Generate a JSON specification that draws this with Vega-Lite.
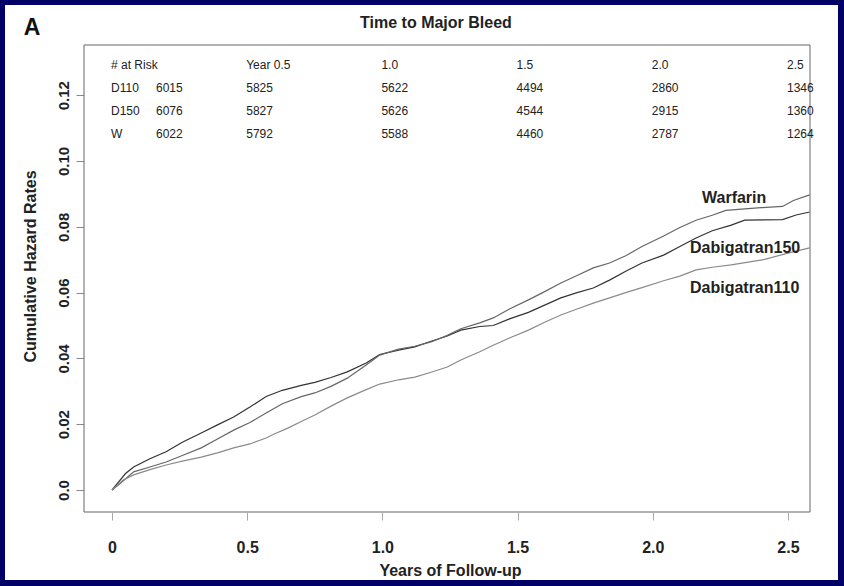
{
  "$schema": "https://vega.github.io/schema/vega-lite/v6.json",
  "width": 726,
  "height": 467,
  "autosize": {"type": "none"},
  "padding": {"left": 84, "top": 45, "right": 34, "bottom": 74},
  "background": "#000066",
  "config": {
    "view": {"stroke": null},
    "font": "Liberation Sans"
  },
  "resolve": {"scale": {"y": "independent"}, "axis": {"x": "independent"}},
  "layer": [
    {
      "layer": [
        {
          "data": {"values": [{}]},
          "mark": {"type": "rect", "fill": "white"},
          "encoding": {
            "x": {"datum": -0.3957, "scale": {"domain": [-0.1036, 2.5814], "nice": false, "zero": false}},
            "x2": {"datum": 2.6849},
            "y": {"datum": 0.14742, "scale": {"domain": [-0.006687, 0.13526], "nice": false, "zero": false}},
            "y2": {"datum": -0.027356}
          }
        },
        {
          "data": {"values": [
            {"arm":"Dabigatran150","t":0,"v":0},{"arm":"Dabigatran150","t":0.02,"v":0.002},{"arm":"Dabigatran150","t":0.05,"v":0.005},{"arm":"Dabigatran150","t":0.08,"v":0.007},{"arm":"Dabigatran150","t":0.14,"v":0.0095},{"arm":"Dabigatran150","t":0.2,"v":0.0116},{"arm":"Dabigatran150","t":0.26,"v":0.0145},{"arm":"Dabigatran150","t":0.33,"v":0.0173},{"arm":"Dabigatran150","t":0.39,"v":0.0198},{"arm":"Dabigatran150","t":0.45,"v":0.0222},{"arm":"Dabigatran150","t":0.51,"v":0.0252},{"arm":"Dabigatran150","t":0.57,"v":0.0284},{"arm":"Dabigatran150","t":0.63,"v":0.0303},{"arm":"Dabigatran150","t":0.7,"v":0.0318},{"arm":"Dabigatran150","t":0.75,"v":0.0327},{"arm":"Dabigatran150","t":0.81,"v":0.0342},{"arm":"Dabigatran150","t":0.87,"v":0.0359},{"arm":"Dabigatran150","t":0.94,"v":0.0386},{"arm":"Dabigatran150","t":0.99,"v":0.0412},{"arm":"Dabigatran150","t":1.06,"v":0.0425},{"arm":"Dabigatran150","t":1.12,"v":0.0435},{"arm":"Dabigatran150","t":1.18,"v":0.0452},{"arm":"Dabigatran150","t":1.24,"v":0.0468},{"arm":"Dabigatran150","t":1.29,"v":0.0486},{"arm":"Dabigatran150","t":1.36,"v":0.0497},{"arm":"Dabigatran150","t":1.41,"v":0.05},{"arm":"Dabigatran150","t":1.47,"v":0.052},{"arm":"Dabigatran150","t":1.54,"v":0.054},{"arm":"Dabigatran150","t":1.6,"v":0.0562},{"arm":"Dabigatran150","t":1.66,"v":0.0584},{"arm":"Dabigatran150","t":1.72,"v":0.06},{"arm":"Dabigatran150","t":1.78,"v":0.0614},{"arm":"Dabigatran150","t":1.84,"v":0.0638},{"arm":"Dabigatran150","t":1.9,"v":0.0665},{"arm":"Dabigatran150","t":1.96,"v":0.069},{"arm":"Dabigatran150","t":2.04,"v":0.0714},{"arm":"Dabigatran150","t":2.1,"v":0.074},{"arm":"Dabigatran150","t":2.16,"v":0.0766},{"arm":"Dabigatran150","t":2.22,"v":0.0788},{"arm":"Dabigatran150","t":2.29,"v":0.0805},{"arm":"Dabigatran150","t":2.34,"v":0.082},{"arm":"Dabigatran150","t":2.48,"v":0.0822},{"arm":"Dabigatran150","t":2.53,"v":0.0836},{"arm":"Dabigatran150","t":2.58,"v":0.0845},
            {"arm":"Warfarin","t":0,"v":0},{"arm":"Warfarin","t":0.03,"v":0.002},{"arm":"Warfarin","t":0.08,"v":0.0055},{"arm":"Warfarin","t":0.14,"v":0.007},{"arm":"Warfarin","t":0.2,"v":0.0085},{"arm":"Warfarin","t":0.26,"v":0.0105},{"arm":"Warfarin","t":0.33,"v":0.0128},{"arm":"Warfarin","t":0.39,"v":0.0155},{"arm":"Warfarin","t":0.45,"v":0.0182},{"arm":"Warfarin","t":0.51,"v":0.0205},{"arm":"Warfarin","t":0.57,"v":0.0234},{"arm":"Warfarin","t":0.63,"v":0.0262},{"arm":"Warfarin","t":0.7,"v":0.0284},{"arm":"Warfarin","t":0.75,"v":0.0295},{"arm":"Warfarin","t":0.81,"v":0.0315},{"arm":"Warfarin","t":0.87,"v":0.034},{"arm":"Warfarin","t":0.94,"v":0.038},{"arm":"Warfarin","t":0.99,"v":0.041},{"arm":"Warfarin","t":1.06,"v":0.0428},{"arm":"Warfarin","t":1.12,"v":0.0437},{"arm":"Warfarin","t":1.18,"v":0.045},{"arm":"Warfarin","t":1.24,"v":0.047},{"arm":"Warfarin","t":1.29,"v":0.049},{"arm":"Warfarin","t":1.36,"v":0.0508},{"arm":"Warfarin","t":1.41,"v":0.0523},{"arm":"Warfarin","t":1.47,"v":0.055},{"arm":"Warfarin","t":1.54,"v":0.0578},{"arm":"Warfarin","t":1.6,"v":0.0603},{"arm":"Warfarin","t":1.66,"v":0.0629},{"arm":"Warfarin","t":1.72,"v":0.0652},{"arm":"Warfarin","t":1.78,"v":0.0675},{"arm":"Warfarin","t":1.84,"v":0.069},{"arm":"Warfarin","t":1.9,"v":0.0712},{"arm":"Warfarin","t":1.96,"v":0.074},{"arm":"Warfarin","t":2.04,"v":0.0772},{"arm":"Warfarin","t":2.1,"v":0.0798},{"arm":"Warfarin","t":2.16,"v":0.082},{"arm":"Warfarin","t":2.22,"v":0.0835},{"arm":"Warfarin","t":2.27,"v":0.085},{"arm":"Warfarin","t":2.4,"v":0.0858},{"arm":"Warfarin","t":2.48,"v":0.0862},{"arm":"Warfarin","t":2.52,"v":0.088},{"arm":"Warfarin","t":2.58,"v":0.0897},
            {"arm":"Dabigatran110","t":0,"v":0},{"arm":"Dabigatran110","t":0.04,"v":0.003},{"arm":"Dabigatran110","t":0.08,"v":0.0046},{"arm":"Dabigatran110","t":0.14,"v":0.0062},{"arm":"Dabigatran110","t":0.2,"v":0.0076},{"arm":"Dabigatran110","t":0.26,"v":0.0088},{"arm":"Dabigatran110","t":0.33,"v":0.01},{"arm":"Dabigatran110","t":0.39,"v":0.0113},{"arm":"Dabigatran110","t":0.45,"v":0.0128},{"arm":"Dabigatran110","t":0.51,"v":0.014},{"arm":"Dabigatran110","t":0.57,"v":0.0158},{"arm":"Dabigatran110","t":0.6,"v":0.017},{"arm":"Dabigatran110","t":0.65,"v":0.0188},{"arm":"Dabigatran110","t":0.7,"v":0.0208},{"arm":"Dabigatran110","t":0.75,"v":0.0228},{"arm":"Dabigatran110","t":0.81,"v":0.0255},{"arm":"Dabigatran110","t":0.87,"v":0.028},{"arm":"Dabigatran110","t":0.94,"v":0.0305},{"arm":"Dabigatran110","t":0.99,"v":0.0322},{"arm":"Dabigatran110","t":1.06,"v":0.0335},{"arm":"Dabigatran110","t":1.12,"v":0.0343},{"arm":"Dabigatran110","t":1.18,"v":0.0358},{"arm":"Dabigatran110","t":1.24,"v":0.0374},{"arm":"Dabigatran110","t":1.29,"v":0.0395},{"arm":"Dabigatran110","t":1.36,"v":0.042},{"arm":"Dabigatran110","t":1.41,"v":0.044},{"arm":"Dabigatran110","t":1.47,"v":0.0462},{"arm":"Dabigatran110","t":1.54,"v":0.0486},{"arm":"Dabigatran110","t":1.6,"v":0.051},{"arm":"Dabigatran110","t":1.66,"v":0.0532},{"arm":"Dabigatran110","t":1.72,"v":0.055},{"arm":"Dabigatran110","t":1.78,"v":0.0568},{"arm":"Dabigatran110","t":1.84,"v":0.0584},{"arm":"Dabigatran110","t":1.9,"v":0.06},{"arm":"Dabigatran110","t":1.96,"v":0.0615},{"arm":"Dabigatran110","t":2.04,"v":0.0636},{"arm":"Dabigatran110","t":2.1,"v":0.065},{"arm":"Dabigatran110","t":2.16,"v":0.0669},{"arm":"Dabigatran110","t":2.22,"v":0.0677},{"arm":"Dabigatran110","t":2.29,"v":0.0684},{"arm":"Dabigatran110","t":2.41,"v":0.07},{"arm":"Dabigatran110","t":2.5,"v":0.072},{"arm":"Dabigatran110","t":2.58,"v":0.0736}
          ]},
          "mark": {"type": "line", "strokeWidth": 1.2, "clip": true},
          "encoding": {
            "x": {
              "field": "t", "type": "quantitative",
              "scale": {"domain": [-0.1036, 2.5814], "nice": false, "zero": false},
              "axis": {
                "zindex": 2, "grid": false,
                "values": [0, 0.5, 1, 1.5, 2, 2.5],
                "labelExpr": "datum.value == 0 ? '0' : format(datum.value, '.1f')",
                "domain": false, "tickColor": "#aaaaaa", "tickSize": 8,
                "labelFontSize": 16, "labelFontWeight": "bold", "labelColor": "#222222",
                "labelBaseline": "alphabetic", "labelPadding": 32, "labelFlush": false,
                "title": "Years of Follow-up", "titleFontSize": 16, "titleFontWeight": "bold", "titleColor": "#222222",
                "titleBaseline": "alphabetic", "titleY": 63, "titleX": 366
              }
            },
            "y": {
              "field": "v", "type": "quantitative",
              "scale": {"domain": [-0.006687, 0.13526], "nice": false, "zero": false},
              "axis": {
                "zindex": 2, "grid": false,
                "values": [0, 0.02, 0.04, 0.06, 0.08, 0.1, 0.12],
                "labelExpr": "datum.value == 0 ? '0.0' : format(datum.value, '.2f')",
                "domain": false, "tickColor": "#888888", "tickSize": 8,
                "labelAngle": 270, "labelAlign": "center", "labelBaseline": "alphabetic", "labelPadding": 8,
                "labelFontSize": 15, "labelFontWeight": "bold", "labelColor": "#222222", "labelFlush": false,
                "title": "Cumulative Hazard Rates", "titleFontSize": 16, "titleFontWeight": "bold", "titleColor": "#222222",
                "titleAngle": 270, "titleBaseline": "alphabetic", "titleAlign": "center", "titleX": -49, "titleY": 221
              }
            },
            "color": {
              "field": "arm", "type": "nominal",
              "scale": {"domain": ["Warfarin", "Dabigatran150", "Dabigatran110"], "range": ["#666666", "#333333", "#8a8a8a"]},
              "legend": null
            }
          }
        },
        {
          "data": {"values": [{}]},
          "mark": {"type": "text", "text": "Warfarin", "align": "left", "baseline": "middle", "fontSize": 16, "fontWeight": "bold", "color": "#222222"},
          "encoding": {"x": {"datum": 2.182}, "y": {"datum": 0.0888}}
        },
        {
          "data": {"values": [{}]},
          "mark": {"type": "text", "text": "Dabigatran150", "align": "left", "baseline": "middle", "fontSize": 16, "fontWeight": "bold", "color": "#222222"},
          "encoding": {"x": {"datum": 2.1375}, "y": {"datum": 0.0736}}
        },
        {
          "data": {"values": [{}]},
          "mark": {"type": "text", "text": "Dabigatran110", "align": "left", "baseline": "middle", "fontSize": 16, "fontWeight": "bold", "color": "#222222"},
          "encoding": {"x": {"datum": 2.1375}, "y": {"datum": 0.0614}}
        },
        {
          "data": {"values": [{}]},
          "mark": {"type": "text", "text": "A", "align": "center", "baseline": "alphabetic", "fontSize": 23, "fontWeight": "bold", "color": "#111111"},
          "encoding": {"x": {"datum": -0.296}, "y": {"datum": 0.1383}}
        },
        {
          "data": {"values": [{}]},
          "mark": {"type": "text", "text": "Time to Major Bleed", "align": "center", "baseline": "alphabetic", "fontSize": 16, "fontWeight": "bold", "color": "#222222"},
          "encoding": {"x": {"datum": 1.198}, "y": {"datum": 0.14043}}
        },
        {
          "data": {"values": [{}]},
          "mark": {"type": "rect", "fill": "transparent", "stroke": "#666666", "strokeWidth": 1},
          "encoding": {}
        }
      ]
    },
    {
      "data": {"values": [
        {"row":"hdr","t":0,"kind":"h","label":"# at Risk"},
        {"row":"hdr","t":0.5,"kind":"h","label":"Year 0.5"},
        {"row":"hdr","t":1,"kind":"h","label":"1.0"},
        {"row":"hdr","t":1.5,"kind":"h","label":"1.5"},
        {"row":"hdr","t":2,"kind":"h","label":"2.0"},
        {"row":"hdr","t":2.5,"kind":"h","label":"2.5"},
        {"row":"D110","t":0,"kind":"name","label":"D110"},
        {"row":"D150","t":0,"kind":"name","label":"D150"},
        {"row":"W","t":0,"kind":"name","label":"W"},
        {"row":"D110","t":0,"kind":"n0","label":"6015"},
        {"row":"D110","t":0.5,"kind":"n","label":"5825"},
        {"row":"D110","t":1,"kind":"n","label":"5622"},
        {"row":"D110","t":1.5,"kind":"n","label":"4494"},
        {"row":"D110","t":2,"kind":"n","label":"2860"},
        {"row":"D110","t":2.5,"kind":"n","label":"1346"},
        {"row":"D150","t":0,"kind":"n0","label":"6076"},
        {"row":"D150","t":0.5,"kind":"n","label":"5827"},
        {"row":"D150","t":1,"kind":"n","label":"5626"},
        {"row":"D150","t":1.5,"kind":"n","label":"4544"},
        {"row":"D150","t":2,"kind":"n","label":"2915"},
        {"row":"D150","t":2.5,"kind":"n","label":"1360"},
        {"row":"W","t":0,"kind":"n0","label":"6022"},
        {"row":"W","t":0.5,"kind":"n","label":"5792"},
        {"row":"W","t":1,"kind":"n","label":"5588"},
        {"row":"W","t":1.5,"kind":"n","label":"4460"},
        {"row":"W","t":2,"kind":"n","label":"2787"},
        {"row":"W","t":2.5,"kind":"n","label":"1264"}
      ]},
      "encoding": {
        "x": {"field": "t", "type": "quantitative", "scale": {"domain": [-0.1036, 2.5814], "nice": false, "zero": false}, "axis": null},
        "y": {"field": "row", "type": "nominal", "scale": {"type": "point", "domain": ["hdr", "D110", "D150", "W"], "range": [20, 89], "padding": 0}, "axis": null},
        "text": {"field": "label", "type": "nominal"}
      },
      "layer": [
        {
          "transform": [{"filter": "datum.kind != 'n0'"}],
          "mark": {"type": "text", "align": "left", "baseline": "middle", "dx": -1, "fontSize": 12, "color": "#222222"}
        },
        {
          "transform": [{"filter": "datum.kind == 'n0'"}],
          "mark": {"type": "text", "align": "left", "baseline": "middle", "dx": 44, "fontSize": 12, "color": "#222222"}
        }
      ]
    }
  ]
}
